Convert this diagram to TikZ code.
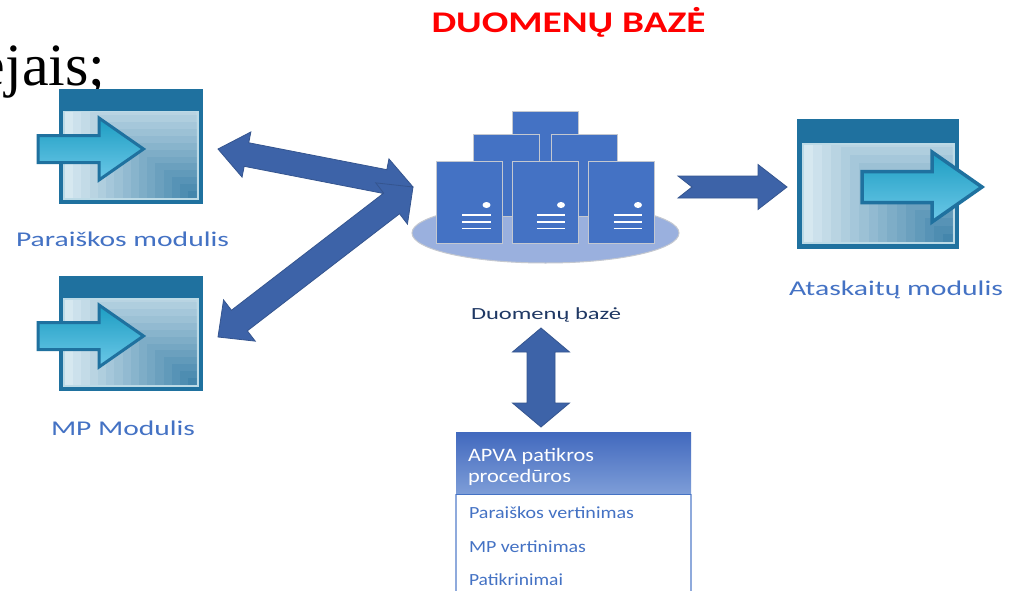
\documentclass[tikz,border=0pt]{standalone}
\usepackage{fontspec}
\usepackage{graphicx}
\setmainfont{Carlito}
\newfontfamily\timesfont{Liberation Serif}
\usetikzlibrary{calc,shapes.geometric}
\definecolor{winblue}{HTML}{1F719F}
\definecolor{winlight}{HTML}{D6E8F0}
\definecolor{windark}{HTML}{3A80A8}
\definecolor{winrim}{HTML}{BCDAE6}
\definecolor{arrowtop}{HTML}{1C9DC2}
\definecolor{arrowbot}{HTML}{6CC8E8}
\definecolor{blockfill}{HTML}{3D63A8}
\definecolor{blockedge}{HTML}{35558F}
\definecolor{labelblue}{HTML}{4472C4}
\definecolor{navy}{HTML}{1F3864}
\definecolor{plate}{HTML}{9AB0DE}
\definecolor{edgegrey}{HTML}{C4C8D0}
\definecolor{panelside}{HTML}{8FAADC}
\definecolor{panelbot}{HTML}{7F9ED8}
\definecolor{paneltop}{HTML}{4169BE}
% text fitted to a measured width, height kept
\newcommand{\fitw}[2]{\resizebox{#1pt}{\height}{#2}}
\tikzset{
  x=1pt,y=-1pt,
  txt/.style={inner sep=0pt,outer sep=0pt,anchor=base west},
  blockarrow/.style={fill=blockfill,draw=blockedge,line width=0.8pt,line join=miter},
  windowarrow/.style={top color=arrowtop,bottom color=arrowbot,draw=winblue,line join=miter},
  serverbox/.style={fill=labelblue,draw=edgegrey,line width=1pt},
  serverline/.style={draw=white,line width=1.6pt},
}
% #1 style, #2 from, #3 to, #4 shaft width, #5 head width, #6 head length, #7 notch
\newcommand{\blocksgl}[7]{%
  \path[#1] ($(#2)!#4/2!90:(#3)$)
    -- ($(#3)!#6!(#2)!#4/2!-90:(#2)$)
    -- ($(#3)!#6!(#2)!#5/2!-90:(#2)$)
    -- (#3)
    -- ($(#3)!#6!(#2)!#5/2!90:(#2)$)
    -- ($(#3)!#6!(#2)!#4/2!90:(#2)$)
    -- ($(#2)!#4/2!-90:(#3)$)
    -- ($(#2)!#7!(#3)$) -- cycle;}
\newcommand{\blockdbl}[6]{%
  \path[#1] (#2)
    -- ($(#2)!#6!(#3)!#5/2!90:(#3)$)
    -- ($(#2)!#6!(#3)!#4/2!90:(#3)$)
    -- ($(#3)!#6!(#2)!#4/2!-90:(#2)$)
    -- ($(#3)!#6!(#2)!#5/2!-90:(#2)$)
    -- (#3)
    -- ($(#3)!#6!(#2)!#5/2!90:(#2)$)
    -- ($(#3)!#6!(#2)!#4/2!90:(#2)$)
    -- ($(#2)!#6!(#3)!#4/2!-90:(#3)$)
    -- ($(#2)!#6!(#3)!#5/2!-90:(#3)$)
    -- cycle;}
% #1 name, #2 x1, #3 y1, #4 x2, #5 y2, #6 title bottom, #7 frame
\newcommand{\windowbox}[7]{%
  \fill[winblue] (#2,#3) rectangle (#4,#5);
  \coordinate (#1) at (#2,#3);
  \pgfmathsetmacro{\ix}{#2+#7}\pgfmathsetmacro{\jx}{#4-#7}\pgfmathsetmacro{\jy}{#5-#7}
  \fill[winrim] (\ix,#6) rectangle (\jx,\jy);
  \begin{scope}
    \clip (\ix+2,#6+2) rectangle (\jx-2,\jy-2);
    \foreach \k in {16,...,1}{
      \pgfmathsetmacro{\f}{\k/16}
      \pgfmathsetmacro{\p}{100*\f}
      \pgfmathsetmacro{\ax}{\jx-2-\f*(\jx-\ix-4)}
      \pgfmathsetmacro{\ay}{\jy-2-1.3*\f*(\jy-#6-4)}
      \fill[winlight!\p!windark] (\ax,\ay) rectangle (\jx-2,\jy-2);
    }
  \end{scope}}
\newcommand{\serverunit}[3]{%
  \node[serverbox,minimum width=66pt,minimum height=82pt,inner sep=0pt,anchor=north west] (#1) at (#2,161) {};
  \fill[white] (#3+24.5,205) ellipse (4 and 3);
  \draw[serverline] (#3,215) -- (#3+28.5,215);
  \draw[serverline] (#3,221.7) -- (#3+28.5,221.7);
  \draw[serverline] (#3,228.3) -- (#3+28.5,228.3);}
\begin{document}
\begin{tikzpicture}
\useasboundingbox (0,0) rectangle (1019,591);
\fill[white] (0,0) rectangle (1019,591);
\begin{scope}
\clip (0,0) rectangle (1019,591);
\node[txt,font=\timesfont\fontsize{60}{60}\selectfont,text=black] (cut) at (-21,86) {ejais;};
\end{scope}
\node[txt,text=red,font=\bfseries\fontsize{30}{30}\selectfont] (title) at (431.5,33) {\fitw{274}{DUOMENŲ BAZĖ}};
% left and right windows
\windowbox{winA}{59}{89}{202.5}{204}{111}{4}
\coordinate (aA) at (38,149); \coordinate (bA) at (143.5,149);
\blocksgl{windowarrow,line width=3pt}{aA}{bA}{27pt}{62pt}{44.5pt}{0pt}
\node[txt,text=labelblue,font=\fontsize{21}{21}\selectfont] (labA) at (16,246) {\fitw{213}{Paraiškos modulis}};
\windowbox{winB}{59}{276}{202.5}{391}{298}{4}
\coordinate (aB) at (38,336); \coordinate (bB) at (143.5,336);
\blocksgl{windowarrow,line width=3pt}{aB}{bB}{27pt}{62pt}{44.5pt}{0pt}
\node[txt,text=labelblue,font=\fontsize{21}{21}\selectfont] (labB) at (51,435) {\fitw{144}{MP Modulis}};
\windowbox{winC}{797}{119}{959}{248.5}{143}{4.5}
\coordinate (aC) at (862,187); \coordinate (bC) at (982,187);
\blocksgl{windowarrow,line width=3.5pt}{aC}{bC}{31pt}{70pt}{50pt}{0pt}
\node[txt,text=labelblue,font=\fontsize{21}{21}\selectfont] (labC) at (789,295) {\fitw{214}{Ataskaitų modulis}};
% servers
\node[ellipse,fill=plate,draw=edgegrey,line width=1pt,minimum width=267pt,minimum height=60pt,inner sep=0pt] (plate) at (545.5,233) {};
\node[serverbox,minimum width=66pt,minimum height=105pt,inner sep=0pt,anchor=north west] (srvT) at (512,111) {};
\node[serverbox,minimum width=66pt,minimum height=82pt,inner sep=0pt,anchor=north west] (srvL) at (473,134) {};
\node[serverbox,minimum width=66pt,minimum height=82pt,inner sep=0pt,anchor=north west] (srvR) at (551,134) {};
\serverunit{srvA}{436}{462}
\serverunit{srvB}{512}{536.5}
\serverunit{srvC}{588}{613.5}
\node[txt,text=navy,font=\fontsize{17}{17}\selectfont] (labDB) at (471,319) {\fitw{150}{Duomenų bazė}};
% block arrows
\coordinate (hub) at (413,187);
\coordinate (endA) at (218,149);
\coordinate (endB) at (218,337);
\blockdbl{blockarrow}{endA}{hub}{24pt}{46pt}{29pt}
\blockdbl{blockarrow}{endB}{hub}{26pt}{52pt}{27pt}
\coordinate (repFrom) at (678,187);
\coordinate (repTo) at (787,187);
\blocksgl{blockarrow}{repFrom}{repTo}{22pt}{45pt}{29pt}{14pt}
\coordinate (vTop) at (541,328);
\coordinate (vBot) at (541,427);
\blockdbl{blockarrow}{vTop}{vBot}{28pt}{57pt}{24pt}
% panel
\draw[panelside,line width=1.5pt] (456,494) -- (456,595) (691,494) -- (691,595);
\node[top color=paneltop,bottom color=panelbot,draw=none,minimum width=235pt,minimum height=62.5pt,inner sep=0pt,anchor=north west] (hdr) at (456,432) {};
\draw[labelblue,line width=1pt] (hdr.south west) -- (hdr.south east);
\node[txt,text=white,font=\fontsize{19}{19}\selectfont] (hdr1) at (468,461.5) {\fitw{126}{APVA patikros}};
\node[txt,text=white,font=\fontsize{19}{19}\selectfont] (hdr2) at (468,482) {\fitw{103}{procedūros}};
\node[txt,text=labelblue,font=\fontsize{17}{17}\selectfont] (it1) at (469,518) {\fitw{165}{Paraiškos vertinimas}};
\node[txt,text=labelblue,font=\fontsize{17}{17}\selectfont] (it2) at (469,552) {\fitw{117}{MP vertinimas}};
\node[txt,text=labelblue,font=\fontsize{17}{17}\selectfont] (it3) at (469,585) {\fitw{94}{Patikrinimai}};
\end{tikzpicture}
\end{document}
